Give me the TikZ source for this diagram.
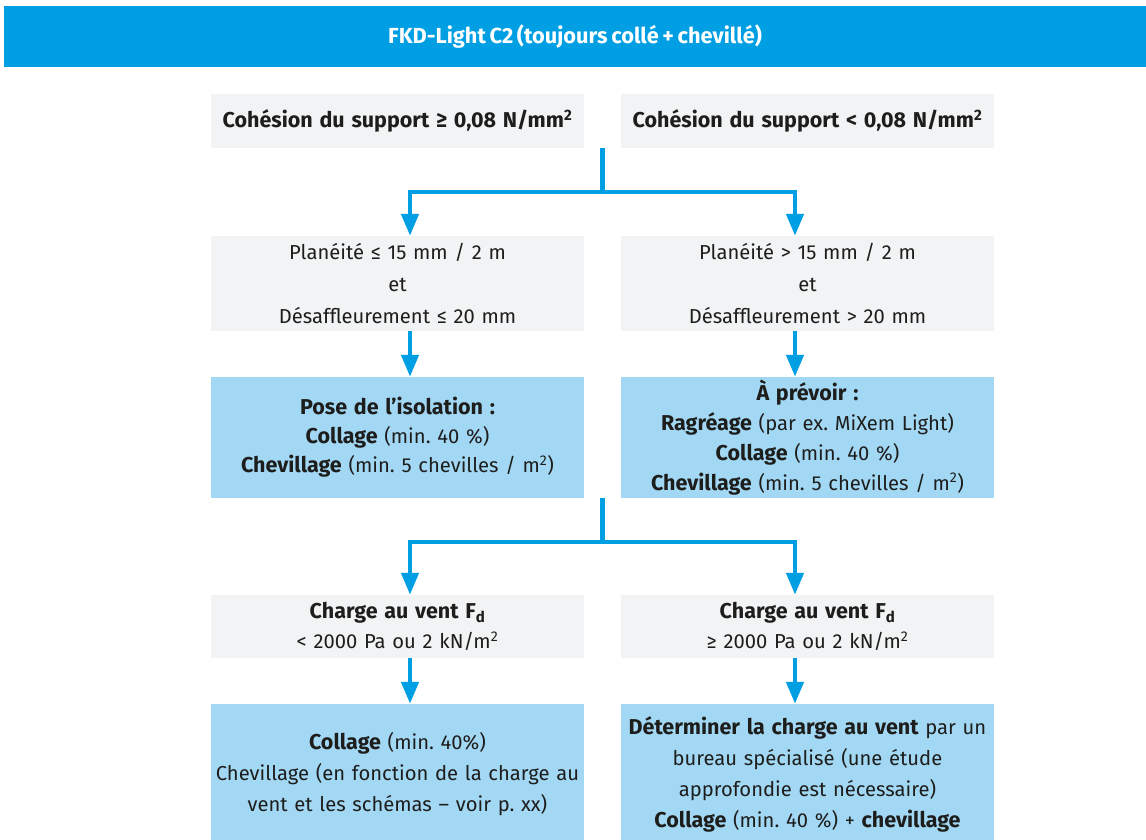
\documentclass[tikz,border=0pt]{standalone}
\usepackage{fontspec}
\setmainfont[WordSpace=0.7]{Fira Sans}
\frenchspacing
\usetikzlibrary{arrows.meta,calc}
\definecolor{bannerblue}{HTML}{009FE3}
\definecolor{boxgrey}{HTML}{F2F3F5}
\definecolor{boxblue}{HTML}{A3D8F5}
\definecolor{txt}{HTML}{1D1D1B}
\newcommand{\bt}[1]{{\fontsize{21.5}{31}\selectfont\bfseries #1}}
\begin{document}
\begin{tikzpicture}[x=1pt,y=-1pt,
  greybox/.style={fill=boxgrey, text=txt, inner xsep=0pt, inner ysep=0pt, text width=373pt, align=center, font=\fontsize{20.2}{31}\selectfont},
  bluebox/.style={greybox, fill=boxblue},
  conn/.style={draw=bannerblue, line width=4.5pt},
  arr/.style={conn, -{Triangle[width=17pt,length=22pt]}}]
\useasboundingbox (0,0) rectangle (1146,839);
\fill[white] (0,0) rectangle (1146,839);
\node[fill=bannerblue, text=white, minimum width=1142pt, minimum height=61pt, inner sep=0pt, font=\fontsize{21.8}{26}\selectfont\bfseries] (banner) at (575,36.5) {FKD-Light C2 (toujours collé + chevillé)};
% row 1
\node[greybox, minimum height=54pt] (c1) at (397.5,121) {\bt{Cohésion du support ≥ 0,08 N/mm\textsuperscript{2}}};
\node[greybox, minimum height=54pt] (c2) at (807.5,121) {\bt{Cohésion du support < 0,08 N/mm\textsuperscript{2}}};
% row 2
\node[greybox, minimum height=95pt, font=\fontsize{20.2}{32}\selectfont] (p1) at (397.5,283.5) {Planéité ≤ 15 mm / 2 m\\et\\Désaffleurement ≤ 20 mm};
\node[greybox, minimum height=95pt, font=\fontsize{20.2}{32}\selectfont] (p2) at (807.5,283.5) {Planéité > 15 mm / 2 m\\et\\Désaffleurement > 20 mm};
% row 3
\node[bluebox, minimum height=121pt, font=\fontsize{20.2}{29}\selectfont] (i1) at (397.5,437.5) {\bt{Pose de l’isolation :}\\\bt{Collage} (min. 40 \%)\\\bt{Chevillage} (min. 5 chevilles / m\textsuperscript{2})};
\node[bluebox, minimum height=121pt, font=\fontsize{20.2}{30}\selectfont] (i2) at (807.5,437.5) {\bt{À prévoir :}\\\bt{Ragréage} (par ex. MiXem Light)\\\bt{Collage} (min. 40 \%)\\\bt{Chevillage} (min. 5 chevilles / m\textsuperscript{2})};
% row 4
\node[greybox, minimum height=63pt, font=\fontsize{20.2}{30}\selectfont] (w1) at (397.5,626.5) {\bt{Charge au vent F\textsubscript{d}}\\< 2000 Pa ou 2 kN/m\textsuperscript{2}};
\node[greybox, minimum height=63pt, font=\fontsize{20.2}{30}\selectfont] (w2) at (807.5,626.5) {\bt{Charge au vent F\textsubscript{d}}\\≥ 2000 Pa ou 2 kN/m\textsuperscript{2}};
% row 5
\node[bluebox, minimum height=140pt, font=\fontsize{20.2}{31}\selectfont] (r1) at (397.5,774) {\bt{Collage} (min. 40\%)\\Chevillage (en fonction de la charge au\\vent et les schémas – voir p. xx)};
\node[bluebox, minimum height=140pt, font=\fontsize{20.2}{31}\selectfont] (r2) at (807.5,774) {\bt{Déterminer la charge au vent} par un\\bureau spécialisé (une étude\\approfondie est nécessaire)\\\bt{Collage} (min. 40 \%) + \bt{chevillage}};
% connectors
\coordinate (s1) at ($(c1.south east)!0.5!(c2.south west)$);
\coordinate (j1) at ($(s1)+(0,44)$);
\draw[conn] (s1) -- (j1);
\draw[arr] (j1) -| ($(p1.north)+(12.5,0)$);
\draw[arr] (j1) -| ($(p2.north)+(-12.5,0)$);
\draw[arr] ($(p1.south)+(12.5,0)$) -- ($(i1.north)+(12.5,0)$);
\draw[arr] ($(p2.south)+(-12.5,0)$) -- ($(i2.north)+(-12.5,0)$);
\coordinate (s2) at ($(i1.south east)!0.5!(i2.south west)$);
\coordinate (j2) at ($(s2)+(0,44)$);
\draw[conn] (s2) -- (j2);
\draw[arr] (j2) -| ($(w1.north)+(12.5,0)$);
\draw[arr] (j2) -| ($(w2.north)+(-12.5,0)$);
\draw[arr] ($(w1.south)+(12.5,0)$) -- ($(r1.north)+(12.5,0)$);
\draw[arr] ($(w2.south)+(-12.5,0)$) -- ($(r2.north)+(-12.5,0)$);
\end{tikzpicture}
\end{document}
